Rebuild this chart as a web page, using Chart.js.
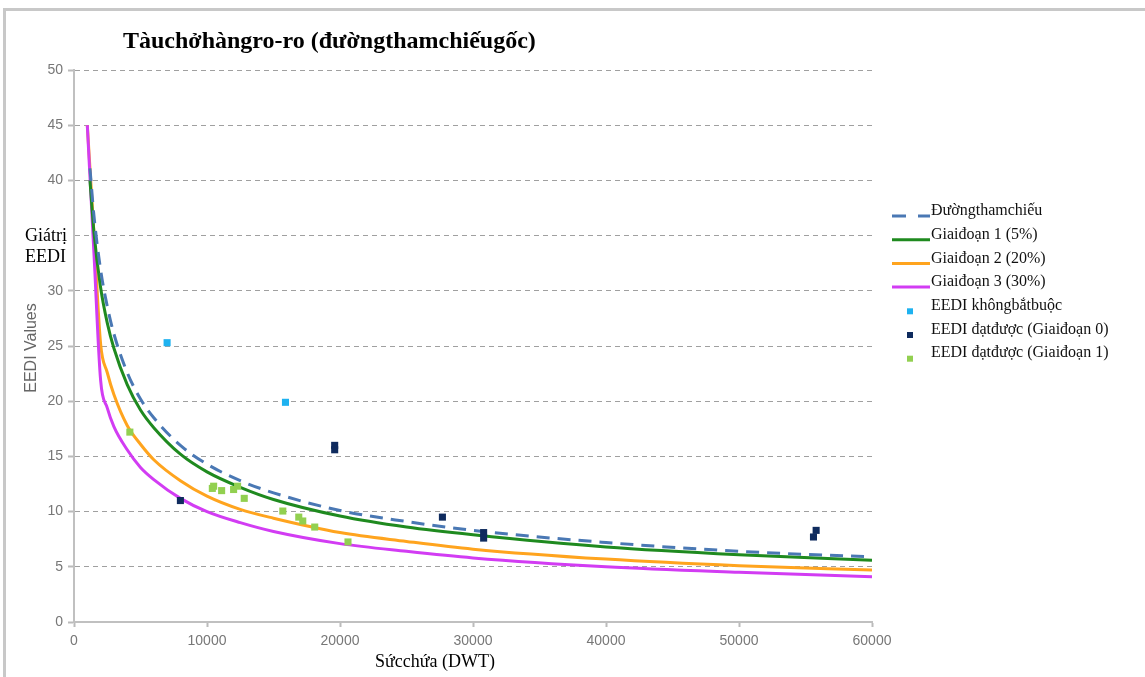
<!DOCTYPE html>
<html lang="vi">
<head>
    <meta charset="UTF-8">
    <title>Tàu chở hàng ro-ro - EEDI</title>
    <script src="https://cdn.jsdelivr.net/npm/chart.js"></script>
    <style>
        body { margin: 0; background: #fff; }
        canvas { display: block; }
    </style>
</head>
<body>
    <canvas id="eediChart" width="1145" height="677"></canvas>

    <script>
        // Curves: capacity (DWT) and EEDI values
        const dwtRef = [1200, 1500, 2000, 2500, 3000, 4000, 5000, 6000, 8000, 10000, 12500, 15000, 20000, 25000, 30000, 40000, 50000, 60000];
        const refLine = [41.1, 36.8, 31.9, 28.6, 26.1, 22.6, 20.2, 18.5, 16.0, 14.3, 12.8, 11.7, 10.1, 9.1, 8.3, 7.2, 6.4, 5.9];
        const phase1Line = [40.0, 35.3, 30.3, 27.1, 24.8, 21.5, 19.2, 17.6, 15.2, 13.6, 12.2, 11.1, 9.6, 8.6, 7.9, 6.8, 6.1, 5.6];

        const dwtPhase = [1000, 1500, 2000, 2500, 3000, 4000, 5000, 6000, 8000, 10000, 12500, 15000, 20000, 25000, 30000, 40000, 50000, 60000];
        const phase2Line = [45.0, 35.2, 25.2, 22.6, 20.6, 17.8, 16.1, 14.7, 12.8, 11.4, 10.2, 9.4, 8.1, 7.3, 6.6, 5.7, 5.1, 4.7];
        const phase3Line = [45.0, 33.4, 21.9, 19.4, 17.7, 15.6, 14.0, 12.9, 11.2, 10.0, 9.0, 8.2, 7.1, 6.4, 5.8, 5.0, 4.5, 4.1];

        // Ships
        const optionalX = [7000, 15900];
        const optionalY = [25.3, 19.9];
        const stage0X = [8000, 19600, 19600, 27700, 30800, 30800, 55600, 55800];
        const stage0Y = [11.0, 16.0, 15.6, 9.5, 8.1, 7.6, 7.7, 8.3];
        const stage1X = [4200, 10400, 10500, 11100, 12000, 12300, 12800, 15700, 16900, 17200, 18100, 20600];
        const stage1Y = [17.2, 12.1, 12.3, 11.9, 12.0, 12.3, 11.2, 10.05, 9.5, 9.15, 8.6, 7.25];

        const legendLabels = [
            'Đườngthamchiếu',
            'Giaiđoạn 1 (5%)',
            'Giaiđoạn 2 (20%)',
            'Giaiđoạn 3 (30%)',
            'EEDI khôngbắtbuộc',
            'EEDI đạtđược (Giaiđoạn 0)',
            'EEDI đạtđược (Giaiđoạn 1)'
        ];

        const toPoints = (xs, ys) => xs.map((x, i) => ({ x: x, y: ys[i] }));

        const curve = (label, xs, ys, color, order, dash) => ({
            type: 'line',
            label: label,
            data: toPoints(xs, ys),
            borderColor: color,
            backgroundColor: color,
            borderWidth: 3,
            borderDash: dash || [],
            pointRadius: 0,
            cubicInterpolationMode: 'monotone',
            fill: false,
            order: order
        });

        const dots = (label, xs, ys, color) => ({
            type: 'scatter',
            label: label,
            data: toPoints(xs, ys),
            backgroundColor: color,
            borderColor: color,
            borderWidth: 0,
            pointStyle: 'rect',
            pointRadius: 5,
            order: 0
        });

        const serif = "'Liberation Serif', 'Times New Roman', serif";
        const sans = "'Liberation Sans', Arial, sans-serif";

        // Texts, legend and frame drawn around the plot
        const decorPlugin = {
            id: 'decor',
            beforeDraw(chart) {
                const ctx = chart.ctx;
                ctx.save();
                ctx.fillStyle = '#C8C8C8';
                ctx.fillRect(3, 8, 1142, 3);
                ctx.fillRect(3, 8, 3, 669);
                ctx.restore();
            },
            afterDraw(chart) {
                const ctx = chart.ctx;
                ctx.save();

                // title
                ctx.fillStyle = '#000';
                ctx.font = 'bold 24px ' + serif;
                ctx.textBaseline = 'alphabetic';
                ctx.fillText('Tàuchởhàngro-ro (đườngthamchiếugốc)', 123, 48);

                // y axis title
                ctx.save();
                ctx.translate(32, 348);
                ctx.rotate(-Math.PI / 2);
                ctx.fillStyle = '#666';
                ctx.font = '16px ' + sans;
                ctx.textAlign = 'center';
                ctx.textBaseline = 'middle';
                ctx.fillText('EEDI Values', 0, 0);
                ctx.restore();

                // white box with the Vietnamese y label
                ctx.fillStyle = '#fff';
                ctx.fillRect(12, 224, 61, 45);
                ctx.fillStyle = '#000';
                ctx.font = '18px ' + serif;
                ctx.textBaseline = 'middle';
                ctx.fillText('Giátrị', 25, 236);
                ctx.fillText('EEDI', 25, 257);

                // x axis title
                ctx.textAlign = 'center';
                ctx.fillText('Sứcchứa (DWT)', 435, 662);

                // legend
                ctx.textAlign = 'left';
                ctx.font = '16px ' + serif;
                chart.data.datasets.forEach((ds, i) => {
                    const ty = 211 + i * 23.7;
                    const my = ty + 5;
                    if (ds.type === 'line') {
                        ctx.strokeStyle = ds.borderColor;
                        ctx.lineWidth = 3;
                        ctx.setLineDash(ds.borderDash.length ? [14, 12] : []);
                        ctx.beginPath();
                        ctx.moveTo(892, my);
                        ctx.lineTo(930, my);
                        ctx.stroke();
                        ctx.setLineDash([]);
                    } else {
                        ctx.fillStyle = ds.backgroundColor;
                        ctx.fillRect(907, my - 2.5, 6, 6);
                    }
                    ctx.fillStyle = '#111';
                    ctx.fillText(legendLabels[i], 931, ty);
                });

                ctx.restore();
            }
        };

        const chart = new Chart(document.getElementById('eediChart'), {
            type: 'scatter',
            data: {
                datasets: [
                    curve(legendLabels[0], dwtRef, refLine, '#4A78B4', 1, [13, 8]),
                    curve(legendLabels[1], dwtRef, phase1Line, '#1F8A1F', 2),
                    curve(legendLabels[2], dwtPhase, phase2Line, '#FFA41E', 4),
                    curve(legendLabels[3], dwtPhase, phase3Line, '#D23CF3', 3),
                    dots(legendLabels[4], optionalX, optionalY, '#1EB2F0'),
                    dots(legendLabels[5], stage0X, stage0Y, '#0F2B5E'),
                    dots(legendLabels[6], stage1X, stage1Y, '#92D050')
                ]
            },
            options: {
                responsive: false,
                animation: false,
                layout: { padding: { top: 70, right: 273, left: 0, bottom: 0 } },
                plugins: {
                    legend: { display: false },
                    tooltip: { enabled: false }
                },
                scales: {
                    x: {
                        type: 'linear',
                        min: 0,
                        max: 60000,
                        ticks: {
                            stepSize: 10000,
                            color: '#777',
                            font: { family: sans, size: 14 },
                            padding: 6,
                            maxRotation: 0,
                            callback: v => String(v)
                        },
                        grid: {
                            drawOnChartArea: false,
                            tickLength: 5,
                            tickColor: '#BBB',
                            tickWidth: 2
                        },
                        border: { color: '#C0C0C0', width: 2 },
                        afterFit: s => { s.height = 55; }
                    },
                    y: {
                        min: 0,
                        max: 50,
                        ticks: {
                            stepSize: 5,
                            color: '#777',
                            font: { family: sans, size: 14 },
                            padding: 5
                        },
                        grid: {
                            color: '#A0A0A0',
                            lineWidth: 1,
                            tickBorderDash: [],
                            tickColor: '#BBB',
                            tickWidth: 2,
                            tickLength: 6
                        },
                        border: { color: '#C0C0C0', width: 2, dash: [5, 4] },
                        afterFit: s => { s.width = 74; }
                    }
                }
            },
            plugins: [decorPlugin]
        });
    </script>
</body>
</html>
